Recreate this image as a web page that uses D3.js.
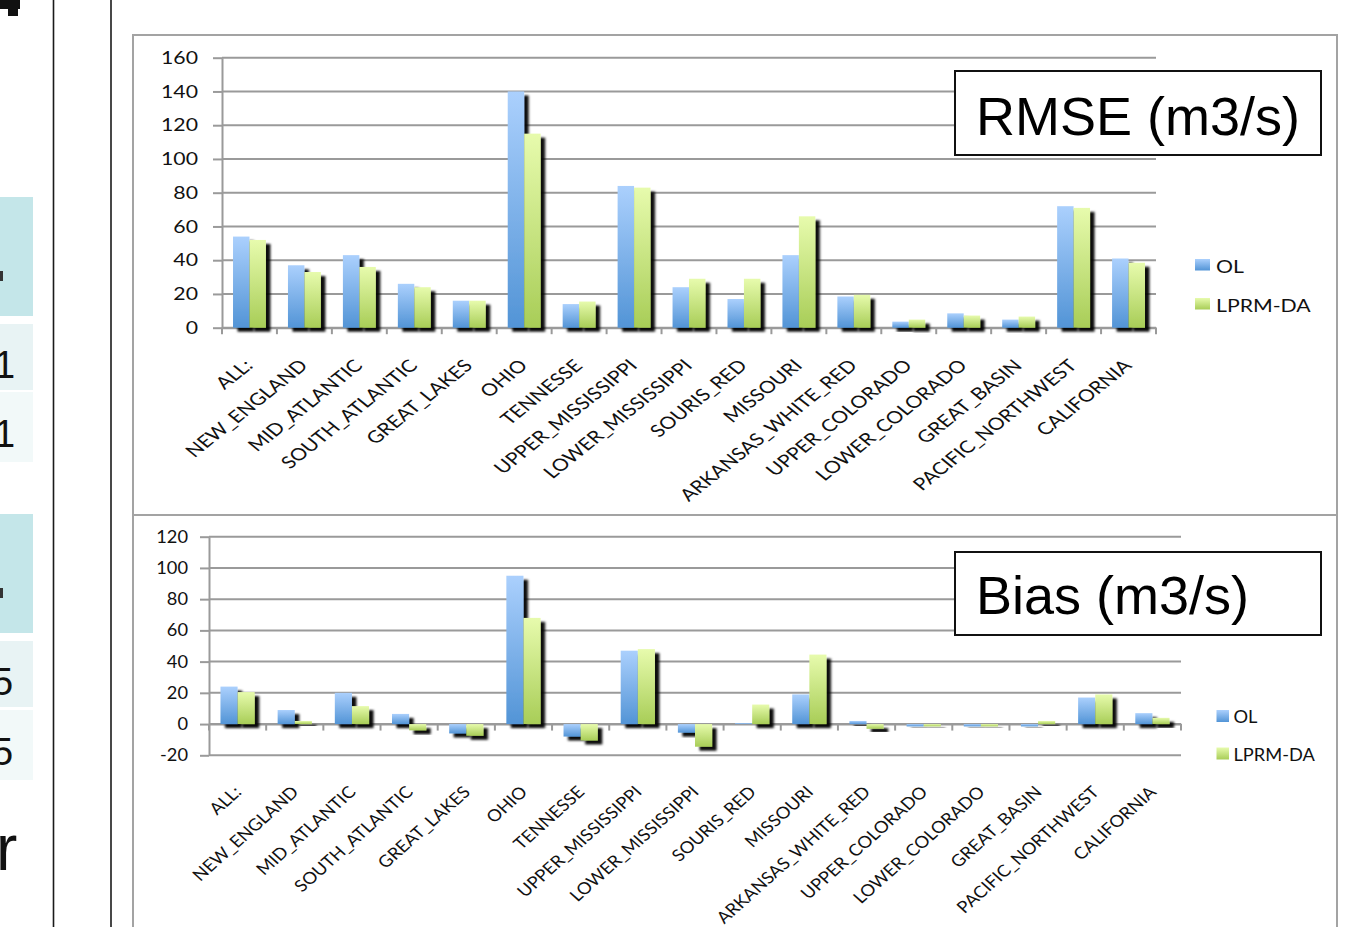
<!DOCTYPE html>
<html>
<head>
<meta charset="utf-8">
<script src="https://cdn.jsdelivr.net/npm/d3@7"></script>
<style>
  html, body { margin: 0; padding: 0; background: #ffffff; overflow: hidden; }
  svg { display: block; }
</style>
</head>
<body>
<svg id="slide" width="1367" height="927"></svg>
<script>
// River basins compared in both panels
const categories = [
  "ALL:", "NEW_ENGLAND", "MID_ATLANTIC", "SOUTH_ATLANTIC", "GREAT_LAKES", "OHIO",
  "TENNESSE", "UPPER_MISSISSIPPI", "LOWER_MISSISSIPPI", "SOURIS_RED", "MISSOURI",
  "ARKANSAS_WHITE_RED", "UPPER_COLORADO", "LOWER_COLORADO", "GREAT_BASIN",
  "PACIFIC_NORTHWEST", "CALIFORNIA"
];
const seriesNames = ["OL", "LPRM-DA"];

// Streamflow RMSE (m3/s)
const rmseOL   = [54, 37, 43, 26, 16, 140, 14, 84, 24, 17, 43, 18.5, 3.6, 8.5, 4.8, 72, 41];
const rmseLPRM = [52, 33, 36, 24, 16, 115, 15.5, 83, 29, 29, 66, 19.5, 4.8, 7.2, 6.6, 71, 38.5];
const rmseTicks = [0, 20, 40, 60, 80, 100, 120, 140, 160];

// Streamflow bias (m3/s)
const biasOL   = [24, 9, 20, 6.5, -6, 95, -8, 47, -5.5, 0.6, 19, 2, -1.5, -1.5, -1.5, 17, 7];
const biasLPRM = [20.5, 2, 11.5, -4, -7.5, 68, -10.5, 48, -14.5, 12.5, 44.5, -3, -1.5, -1.5, 2, 19, 4];
const biasTicks = [-20, 0, 20, 40, 60, 80, 100, 120];

const svg = d3.select("#slide");
const defs = svg.append("defs");

function verticalGradient(id, top, bottom) {
  const g = defs.append("linearGradient")
    .attr("id", id).attr("x1", 0).attr("y1", 0).attr("x2", 0).attr("y2", 1);
  g.append("stop").attr("offset", "0%").attr("stop-color", top);
  g.append("stop").attr("offset", "100%").attr("stop-color", bottom);
}
verticalGradient("fill-ol", "#abd0fd", "#5294d6");
verticalGradient("fill-lprm", "#e7fbad", "#a8cd57");
const seriesFill = ["url(#fill-ol)", "url(#fill-lprm)"];

const shadow = defs.append("filter").attr("id", "bar-shadow")
  .attr("x", "-60%").attr("y", "-60%").attr("width", "220%").attr("height", "220%");
shadow.append("feDropShadow")
  .attr("dx", 4.5).attr("dy", 4).attr("stdDeviation", 0.9)
  .attr("flood-color", "#000").attr("flood-opacity", 0.95);

// ---- neighbouring slide content cut by the left edge ----
const side = svg.append("g");
side.append("rect").attr("x", 0).attr("y", 197).attr("width", 33).attr("height", 119).attr("fill", "#c4e6e9");
side.append("rect").attr("x", 0).attr("y", 324).attr("width", 33).attr("height", 66).attr("fill", "#e8f3f4");
side.append("rect").attr("x", 0).attr("y", 392).attr("width", 33).attr("height", 70).attr("fill", "#f2f9f9");
side.append("rect").attr("x", 0).attr("y", 514).attr("width", 33).attr("height", 119).attr("fill", "#c4e6e9");
side.append("rect").attr("x", 0).attr("y", 641).attr("width", 33).attr("height", 66).attr("fill", "#e8f3f4");
side.append("rect").attr("x", 0).attr("y", 710).attr("width", 33).attr("height", 70).attr("fill", "#f2f9f9");
side.append("rect").attr("x", 0).attr("y", 271).attr("width", 3).attr("height", 10).attr("fill", "#333");
side.append("rect").attr("x", 0).attr("y", 588).attr("width", 3).attr("height", 10).attr("fill", "#333");
const sideText = [
  { t: "1", x: -6, y: 378, s: 38 },
  { t: "1", x: -6, y: 447, s: 38 },
  { t: "5", x: -8, y: 695, s: 38 },
  { t: "5", x: -8, y: 765, s: 38 },
  { t: "r", x: -4, y: 870, s: 64 },
  { t: "o", x: -20, y: 965, s: 64 }
];
side.selectAll("text").data(sideText).join("text")
  .attr("x", d => d.x).attr("y", d => d.y)
  .attr("font-family", "Liberation Sans, Arial, sans-serif")
  .attr("font-size", d => d.s).attr("fill", "#111").text(d => d.t);
side.append("rect").attr("x", 0).attr("y", 0).attr("width", 20).attr("height", 9).attr("fill", "#111");
side.append("rect").attr("x", 8).attr("y", 0).attr("width", 10).attr("height", 16).attr("fill", "#111");
side.append("line").attr("x1", 53.5).attr("x2", 53.5).attr("y1", 0).attr("y2", 927)
  .attr("stroke", "#1a1a1a").attr("stroke-width", 1.6);
side.append("line").attr("x1", 111).attr("x2", 111).attr("y1", 0).attr("y2", 927)
  .attr("stroke", "#1a1a1a").attr("stroke-width", 1.6);

// ---- one grouped bar panel ----
function drawPanel(cfg) {
  const g = svg.append("g");
  const [fx0, fy0, fx1, fy1] = cfg.frame;
  g.append("rect").attr("x", fx0).attr("y", fy0).attr("width", fx1 - fx0).attr("height", fy1 - fy0)
    .attr("fill", "#fff").attr("stroke", "#a3a3a3").attr("stroke-width", 2);

  const x = d3.scaleBand().domain(categories).range([cfg.x0, cfg.x1]);
  const xs = d3.scaleBand().domain(seriesNames).range([0, x.bandwidth()]).paddingOuter(0.67);
  const y = d3.scaleLinear().domain(d3.extent(cfg.ticks)).range([cfg.yBottom, cfg.yTop]);
  const font = "Lato, 'Open Sans', sans-serif";

  // horizontal gridlines
  g.append("g").selectAll("line").data(cfg.ticks).join("line")
    .attr("x1", cfg.x0).attr("x2", cfg.x1)
    .attr("y1", d => y(d)).attr("y2", d => y(d))
    .attr("stroke", "#9a9a9a").attr("stroke-width", 2);

  // value axis (plain hyphen for negatives)
  const yAxis = g.append("g").attr("transform", `translate(${cfg.x0},0)`)
    .call(d3.axisLeft(y).tickValues(cfg.ticks).tickSize(9).tickSizeOuter(0).tickFormat(d => String(d)));
  yAxis.select(".domain").attr("stroke", "#9a9a9a").attr("stroke-width", 2);
  yAxis.selectAll(".tick line").attr("stroke", "#9a9a9a").attr("stroke-width", 2);
  yAxis.selectAll(".tick text")
    .attr("x", 0).attr("dy", "0.34em")
    .attr("transform", `translate(${-(9 + cfg.tickPad)},0) scale(${cfg.sx},1)`)
    .attr("font-family", font).attr("font-size", cfg.font).attr("fill", "#111");

  // category axis along zero
  const y0 = y(0);
  const bounds = categories.map(c => x(c)).concat([cfg.x1]);
  g.append("g").selectAll("line").data(bounds).join("line")
    .attr("x1", d => d).attr("x2", d => d).attr("y1", y0).attr("y2", y0 + 6.5)
    .attr("stroke", "#9a9a9a").attr("stroke-width", 2);
  const xAxis = g.append("g").attr("transform", `translate(0,${y0})`)
    .call(d3.axisBottom(x).tickSize(0).tickSizeOuter(0));
  xAxis.select(".domain").attr("stroke", "#9a9a9a").attr("stroke-width", 2);
  xAxis.selectAll(".tick text")
    .attr("x", 0).attr("y", 0).attr("dy", 0)
    .attr("text-anchor", "end")
    .attr("transform", `translate(${cfg.labelDx},${cfg.labelDy}) scale(${cfg.sx},1) rotate(-45)`)
    .attr("font-family", font).attr("font-size", cfg.labelFont).attr("fill", "#111");

  // bars with drop shadow, OL first so LPRM-DA covers its shadow
  cfg.values.forEach((vals, si) => {
    g.append("g").selectAll("rect").data(categories).join("rect")
      .attr("x", c => x(c) + xs(seriesNames[si]))
      .attr("width", xs.bandwidth())
      .attr("y", (c, i) => y(Math.max(0, vals[i])))
      .attr("height", (c, i) => Math.abs(y(vals[i]) - y0))
      .attr("fill", seriesFill[si])
      .attr("filter", "url(#bar-shadow)");
  });

  // title box
  const [bx0, by0, bx1, by1] = cfg.titleBox;
  g.append("rect").attr("x", bx0).attr("y", by0).attr("width", bx1 - bx0).attr("height", by1 - by0)
    .attr("fill", "#fff").attr("stroke", "#111").attr("stroke-width", 2);
  g.append("text").attr("x", cfg.titleX).attr("y", cfg.titleY)
    .attr("font-family", "Liberation Sans, Arial, sans-serif").attr("font-size", 54)
    .attr("fill", "#000").text(cfg.title);

  // legend
  const leg = g.append("g").selectAll("g").data(seriesNames).join("g")
    .attr("transform", (d, i) => `translate(${cfg.legend.x},${cfg.legend.ys[i]})`);
  leg.append("rect").attr("x", 0).attr("y", 0)
    .attr("width", cfg.legend.w).attr("height", cfg.legend.h)
    .attr("fill", (d, i) => seriesFill[i]);
  leg.append("text")
    .attr("x", 0).attr("y", 0)
    .attr("transform", `translate(${cfg.legend.tx},${cfg.legend.ty}) scale(${cfg.sx},1)`)
    .attr("font-family", font).attr("font-size", cfg.font).attr("fill", "#111")
    .text(d => d);
}

drawPanel({
  frame: [133, 35, 1337, 515],
  x0: 222, x1: 1156, yTop: 57.7, yBottom: 327.7,
  ticks: rmseTicks, values: [rmseOL, rmseLPRM],
  sx: 1.25, font: 17, labelFont: 17, tickPad: 15,
  labelDx: 4.5, labelDy: 39,
  titleBox: [955, 71, 1321, 155], title: "RMSE (m3/s)", titleX: 976, titleY: 135,
  legend: { x: 1195, ys: [259, 298], w: 15, h: 11.5, tx: 21, ty: 13.5 }
});

drawPanel({
  frame: [133, 515, 1337, 940],
  x0: 209, x1: 1181, yTop: 536.7, yBottom: 755.3,
  ticks: biasTicks, values: [biasOL, biasLPRM],
  sx: 1.12, font: 16.3, labelFont: 16.5, tickPad: 12,
  labelDx: 5, labelDy: 69,
  titleBox: [955, 552, 1321, 635], title: "Bias (m3/s)", titleX: 976, titleY: 614,
  legend: { x: 1216.5, ys: [710, 747.5], w: 12.5, h: 12, tx: 17, ty: 13 }
});
</script>
</body>
</html>
